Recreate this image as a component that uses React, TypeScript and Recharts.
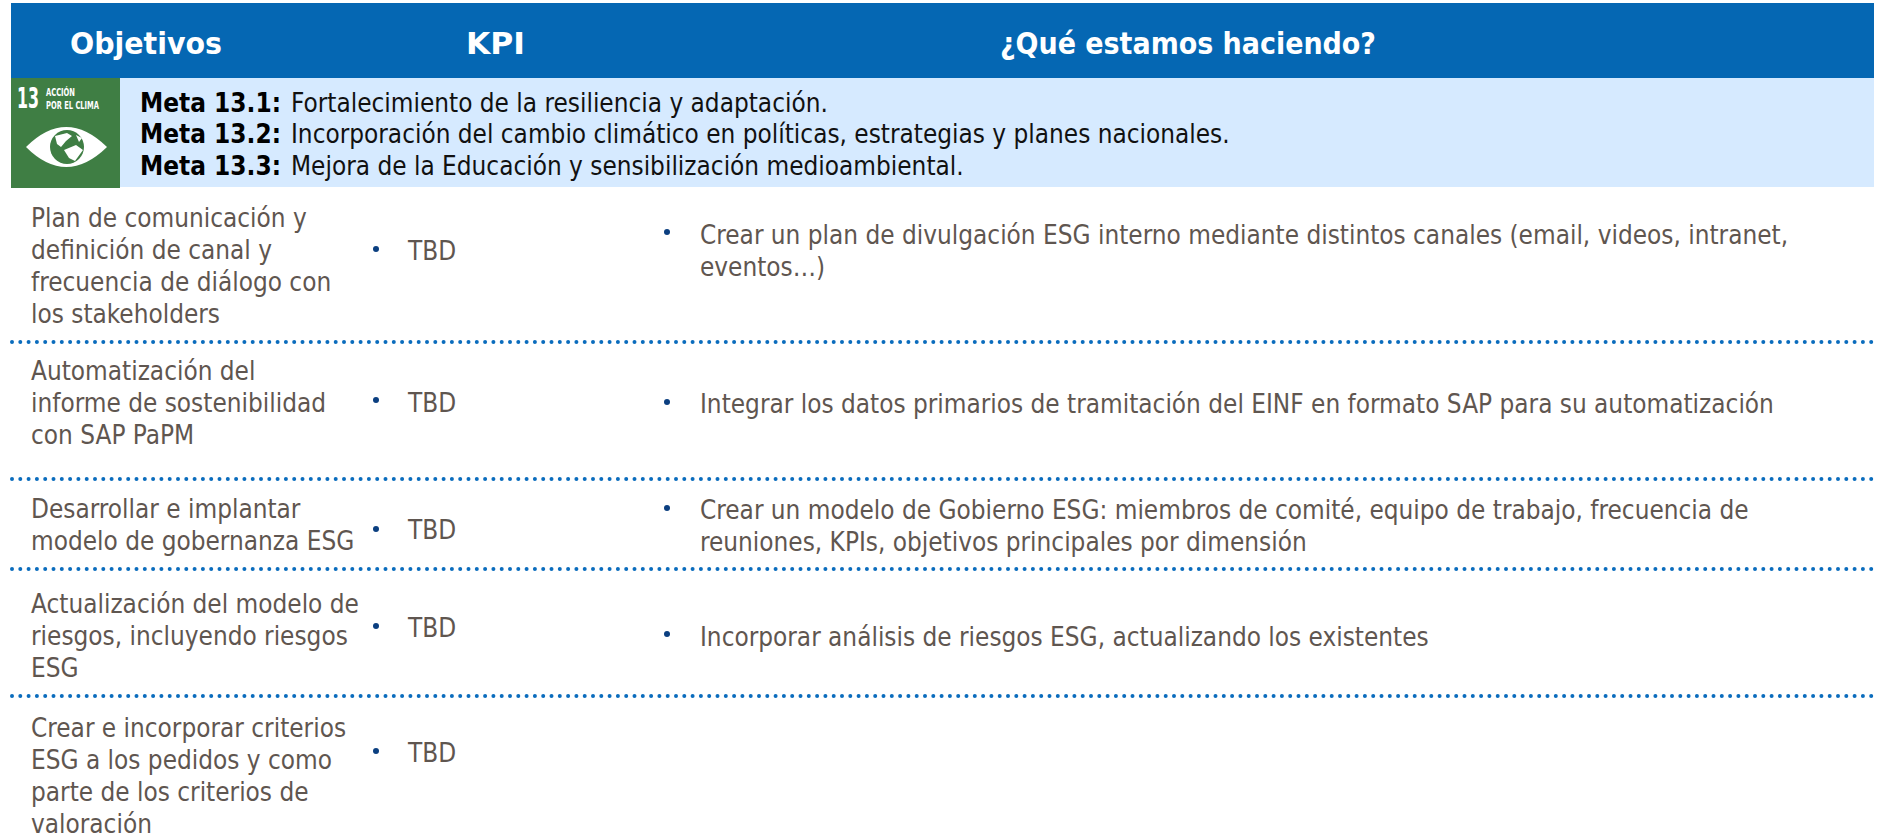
import React from 'react';
import { ComposedChart, XAxis, YAxis, Scatter, ReferenceArea, ReferenceDot, ReferenceLine } from 'recharts';

const WIDTH = 1885;
const HEIGHT = 837;

// table content
const headers = ['Objetivos', 'KPI', '¿Qué estamos haciendo?'];
const metaLabels = ['Meta 13.1:', 'Meta 13.2:', 'Meta 13.3:'];
const metaTexts = [
  'Fortalecimiento de la resiliencia y adaptación.',
  'Incorporación del cambio climático en políticas, estrategias y planes nacionales.',
  'Mejora de la Educación y sensibilización medioambiental.',
];
const objectives = [
  ['Plan de comunicación y', 'definición de canal y', 'frecuencia de diálogo con', 'los stakeholders'],
  ['Automatización del', 'informe de sostenibilidad', 'con SAP PaPM'],
  ['Desarrollar e implantar', 'modelo de gobernanza ESG'],
  ['Actualización del modelo de', 'riesgos, incluyendo riesgos', 'ESG'],
  ['Crear e incorporar criterios', 'ESG a los pedidos y como', 'parte de los criterios de', 'valoración'],
];
const kpis = ['TBD', 'TBD', 'TBD', 'TBD', 'TBD'];
const actions = [
  ['Crear un plan de divulgación ESG interno mediante distintos canales (email, videos, intranet,', 'eventos…)'],
  ['Integrar los datos primarios de tramitación del EINF en formato SAP para su automatización'],
  ['Crear un modelo de Gobierno ESG: miembros de comité, equipo de trabajo, frecuencia de', 'reuniones, KPIs, objetivos principales por dimensión'],
  ['Incorporar análisis de riesgos ESG, actualizando los existentes'],
];

// layout, in page pixels (the axes run 1:1 with the page)
const headerX = [70, 466, 1000];
const headerWidth = [152, 59, 376];
const objectiveTop = [227, 380, 518, 613, 737];
const kpiBaseline = [260, 412, 539, 637, 762];
const kpiBulletY = [249, 400, 529, 626, 751];
const actionTop = [244, 413, 519, 646];
const actionBulletY = [232, 402, 508, 634];
const dividers = [342, 479, 569, 696];
const metaBaseline = [112, 143, 175];

const FONT = '"DejaVu Sans Condensed", "DejaVu Sans", sans-serif';
const TEXT_COLOR = '#5f5650';
const LINE_STEP = 32;

const kpiBullets = kpiBulletY.map((y) => ({ x: 376, y }));
const actionBullets = actionBulletY.map((y) => ({ x: 667, y }));

const Label = ({ x, y, text, color = TEXT_COLOR, size = 25.9, weight = 400, length }: any) => (
  <ReferenceDot
    x={x}
    y={y}
    r={0}
    shape={(p: any) => (
      <text
        x={p.cx}
        y={p.cy}
        fill={color}
        fontSize={size}
        fontWeight={weight}
        fontFamily={FONT}
        fontStretch="condensed"
        textLength={length}
        lengthAdjust={length ? 'spacingAndGlyphs' : undefined}
      >
        {text}
      </text>
    )}
  />
);

const Bullet = (p: any) => <circle cx={p.cx} cy={p.cy} r={3} fill="#0b3f80" />;

const ClimateIcon = (p: any) => {
  const x = p.cx;
  const y = p.cy;
  return (
    <g fontFamily={FONT} fill="#fff">
      <text x={x + 6} y={y + 30} fontSize={28} fontWeight={700} textLength={22} lengthAdjust="spacingAndGlyphs">13</text>
      <text x={x + 35} y={y + 18} fontSize={10} fontWeight={700} textLength={29} lengthAdjust="spacingAndGlyphs">ACCIÓN</text>
      <text x={x + 35} y={y + 31} fontSize={10} fontWeight={700} textLength={53} lengthAdjust="spacingAndGlyphs">POR EL CLIMA</text>
      <path d={`M${x + 15} ${y + 69} Q${x + 55} ${y + 29} ${x + 96} ${y + 69} Q${x + 55} ${y + 109} ${x + 15} ${y + 69} Z`} />
      <circle cx={x + 56} cy={y + 69} r={17} fill="#3f7e44" />
      <path d={`M${x + 44} ${y + 58} l12 -3 l5 3 l-6 5 l-5 6 l-4 -3 Z M${x + 53} ${y + 72} l12 -5 l7 5 l-8 11 l-6 -3 Z M${x + 65} ${y + 57} l6 3 l-3 4 Z`} />
    </g>
  );
};

export default function App() {
  return (
    <div style={{ position: 'absolute', left: 0, top: 0, width: WIDTH, height: HEIGHT }}>
      <ComposedChart width={WIDTH} height={HEIGHT} margin={{ top: 0, right: 0, bottom: 0, left: 0 }}>
        <XAxis type="number" dataKey="x" domain={[0, WIDTH]} hide />
        <YAxis type="number" dataKey="y" domain={[0, HEIGHT]} reversed hide />

        <ReferenceArea x1={11} x2={1874} y1={3} y2={78} fill="#0567b3" fillOpacity={1} stroke="none" />
        <ReferenceArea x1={120} x2={1874} y1={78} y2={187} fill="#d6eaff" fillOpacity={1} stroke="none" />
        <ReferenceArea x1={11} x2={120} y1={78} y2={188} fill="#3f7e44" fillOpacity={1} stroke="none" />
        <ReferenceDot x={11} y={78} r={0} shape={ClimateIcon} />

        {dividers.map((y) => (
          <ReferenceLine
            key={y}
            segment={[{ x: 12, y }, { x: 1874, y }]}
            stroke="#0a6cbd"
            strokeWidth={4}
            strokeDasharray="0 8.3"
            strokeLinecap="round"
          />
        ))}

        {headers.map((h, i) => (
          <Label key={h} x={headerX[i]} y={54} text={h} color="#fff" size={31} weight={700} length={headerWidth[i]} />
        ))}

        {metaLabels.map((m, i) => (
          <React.Fragment key={m}>
            <Label x={140} y={metaBaseline[i]} text={m} color="#000" size={26} weight={700} length={141} />
            <Label x={291} y={metaBaseline[i]} text={metaTexts[i]} color="#111" />
          </React.Fragment>
        ))}

        {objectives.flatMap((lines, r) =>
          lines.map((line, i) => <Label key={line} x={31} y={objectiveTop[r] + i * LINE_STEP} text={line} />),
        )}
        {kpis.map((k, r) => (
          <Label key={r} x={408} y={kpiBaseline[r]} text={k} />
        ))}
        {actions.flatMap((lines, r) =>
          lines.map((line, i) => <Label key={line} x={700} y={actionTop[r] + i * LINE_STEP} text={line} />),
        )}

        <Scatter data={kpiBullets} dataKey="y" shape={Bullet} isAnimationActive={false} />
        <Scatter data={actionBullets} dataKey="y" shape={Bullet} isAnimationActive={false} />
      </ComposedChart>
    </div>
  );
}
